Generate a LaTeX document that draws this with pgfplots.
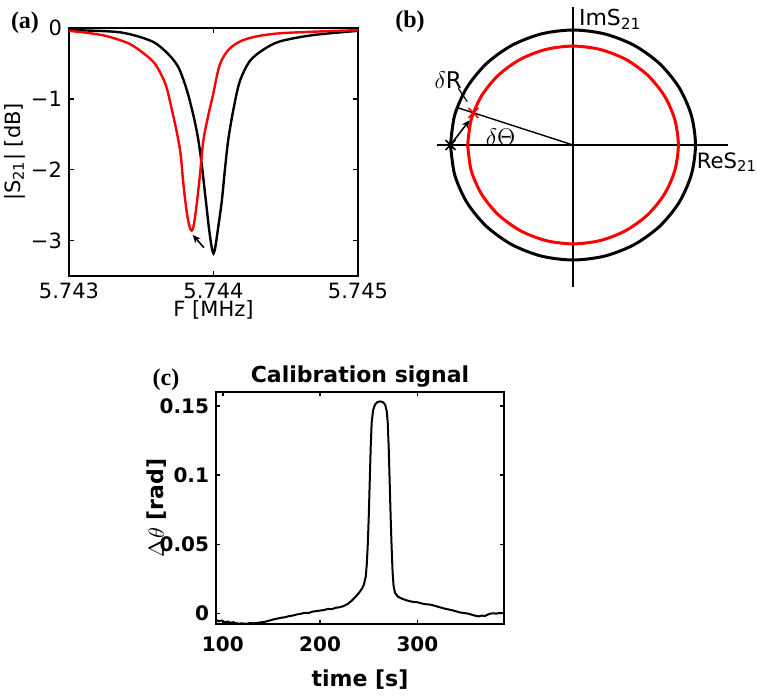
\documentclass[border=0pt]{standalone}
\usepackage{fontspec}
\setmainfont{DejaVu Sans}
\newfontfamily\panelfont{Liberation Serif}
\usepackage{pgfplots}
\pgfplotsset{compat=1.18}
\usetikzlibrary{arrows.meta}

% |S21| traces, x given as (F - 5.743 MHz) in kHz
\pgfplotstableread{
x y
0.000 -0.03
0.350 -0.06
0.576 -0.19
0.692 -0.38
0.761 -0.57
0.819 -0.90
0.865 -1.27
0.895 -1.58
0.920 -1.95
0.945 -2.40
0.970 -2.85
0.988 -3.10
1.000 -3.18
1.012 -3.10
1.030 -2.85
1.057 -2.45
1.080 -1.98
1.102 -1.58
1.135 -1.18
1.181 -0.76
1.250 -0.47
1.342 -0.31
1.458 -0.19
1.688 -0.10
2.000 -0.04
}\blackres
\pgfplotstableread{
x y
0.000 -0.04
0.230 -0.10
0.415 -0.22
0.530 -0.38
0.600 -0.52
0.669 -0.80
0.715 -1.18
0.750 -1.51
0.773 -1.79
0.791 -2.19
0.815 -2.60
0.835 -2.81
0.849 -2.86
0.862 -2.80
0.880 -2.55
0.905 -2.10
0.929 -1.60
0.962 -1.25
0.997 -0.94
1.043 -0.52
1.112 -0.29
1.227 -0.155
1.458 -0.075
2.000 -0.03
}\redres

\pgfplotstableread{
t d
93 -0.0045
96 -0.0055
99 -0.0050
102 -0.0062
105 -0.0058
108 -0.0066
111 -0.0062
114 -0.0070
117 -0.0072
120 -0.0070
124 -0.0074
128 -0.0068
132 -0.0070
136 -0.0066
140 -0.0062
144 -0.0058
148 -0.0050
152 -0.0042
156 -0.0036
160 -0.0030
164 -0.0026
168 -0.0018
172 -0.0014
176 -0.0006
180 -0.0002
184 0.0006
188 0.0004
192 0.0014
196 0.0018
200 0.0022
204 0.0026
208 0.0034
212 0.0032
216 0.0042
220 0.0046
224 0.0054
228 0.0068
232 0.0090
236 0.0118
240 0.0150
243 0.0180
245 0.0210
247 0.0270
248 0.0360
249 0.0500
250 0.0700
251 0.0950
252 0.1200
253 0.1380
254.5 0.1470
256.5 0.1510
259 0.1528
262 0.1532
265 0.1525
267 0.1505
268.5 0.1460
269.5 0.1380
270.5 0.1200
271.5 0.0950
272.5 0.0700
273.5 0.0480
274.5 0.0300
275.5 0.0200
277 0.0150
280 0.0122
284 0.0108
288 0.0098
292 0.0090
296 0.0084
300 0.0082
304 0.0074
308 0.0068
312 0.0066
316 0.0060
320 0.0052
324 0.0044
328 0.0036
332 0.0030
336 0.0024
340 0.0016
344 0.0008
348 0.0004
352 0.0000
356 -0.0008
360 -0.0016
363 -0.0020
366 -0.0014
369 -0.0018
372 -0.0008
375 0.0000
378 0.0002
381 0.0000
384 0.0004
388 0.0004
}\calib

\begin{document}
\begin{tikzpicture}
\useasboundingbox (0,0) rectangle (378.5pt,348.5pt);

% ---- (a) ----
\begin{axis}[
  at={(34.5pt,210.5pt)}, anchor=south west,
  scale only axis, width=144.5pt, height=124pt,
  xmin=0, xmax=2, ymin=-3.5, ymax=0,
  xtick={0,1,2}, xticklabels={5.743,5.744,5.745},
  ytick={-3,-2,-1,0}, yticklabels={−3,−2,−1,0},
  tick align=inside, major tick length=2.5pt,
  axis line style={line width=0.9pt},
  tick style={line width=0.7pt, black},
  ticklabel style={font=\fontsize{10.5}{12}\selectfont},
  label style={font=\fontsize{10.5}{12}\selectfont},
  xlabel={F [MHz]}, ylabel={|S\textsubscript{21}| [dB]},
  xlabel style={at={([yshift=-17pt]rel axis cs:0.5,0)}, anchor=center},
  ylabel style={at={([xshift=-27pt]rel axis cs:0,0.5)}, anchor=center},
]
\addplot[black, line width=1.2pt, smooth] table[x=x, y=y] {\blackres};
\addplot[red, line width=1.2pt, smooth] table[x=x, y=y] {\redres};
\draw[-{Stealth[length=4pt,width=3.5pt]}, line width=0.8pt] (axis cs:0.934,-3.10) -- (axis cs:0.856,-2.92);
\end{axis}

% ---- (b) ----
\begin{axis}[
  at={(213pt,204.125pt)}, anchor=south west,
  scale only axis, width=153.125pt, height=143.75pt,
  xmin=-1.2, xmax=1.3, ymin=-1.25, ymax=1.25,
  hide axis, clip=false,
]
\addplot[black, line width=0.8pt] coordinates {(-1.11,0) (1.265,0)};
\addplot[black, line width=0.8pt] coordinates {(0,1.2) (0,-1.235)};
\addplot[black, line width=0.7pt] coordinates {(0,0) (-0.9455,0.3256)};
\addplot[black, line width=1.5pt, smooth] coordinates {
(-1,0) (-0.9659,-0.2588) (-0.8660,-0.5) (-0.7071,-0.7071) (-0.5,-0.8660)
(-0.2588,-0.9659) (0,-1) (0.2588,-0.9659) (0.5,-0.8660) (0.7071,-0.7071)
(0.8660,-0.5) (0.9659,-0.2588) (1,0) (0.9659,0.2588) (0.8660,0.5)
(0.7071,0.7071) (0.5,0.8660) (0.2588,0.9659) (0,1) (-0.2588,0.9659)
(-0.5,0.8660) (-0.7071,0.7071) (-0.8660,0.5) (-0.9659,0.2588) (-1,0)};
\addplot[red, line width=1.5pt, smooth] coordinates {
(-0.86,0) (-0.8307,-0.2226) (-0.7448,-0.43) (-0.6081,-0.6081) (-0.43,-0.7448)
(-0.2226,-0.8307) (0,-0.86) (0.2226,-0.8307) (0.43,-0.7448) (0.6081,-0.6081)
(0.7448,-0.43) (0.8307,-0.2226) (0.86,0) (0.8307,0.2226) (0.7448,0.43)
(0.6081,0.6081) (0.43,0.7448) (0.2226,0.8307) (0,0.86) (-0.2226,0.8307)
(-0.43,0.7448) (-0.6081,0.6081) (-0.7448,0.43) (-0.8307,0.2226) (-0.86,0)};
\addplot[black, only marks, mark=x, mark size=3.5pt, line width=0.8pt] coordinates {(-1,0)};
\addplot[red, only marks, mark=x, mark size=3.5pt, line width=0.8pt] coordinates {(-0.813,0.280)};
\draw[-{Stealth[length=4pt,width=3.5pt]}, line width=0.8pt] (axis cs:-1,0) -- (axis cs:-0.845,0.215);
\draw[line width=0.6pt] (axis cs:-0.936,0.493) -- (axis cs:-0.863,0.377);
\node[font=\fontsize{11.5}{13}\selectfont] at (axis cs:-1.018,0.565) {$\delta$R};
\node[font=\fontsize{11.5}{13}\selectfont] at (axis cs:-0.59,0.072) {$\delta\Theta$};
\node[anchor=west, inner sep=1pt, font=\fontsize{11}{13}\selectfont] at (axis cs:0.03,1.09) {ImS\textsubscript{21}};
\node[anchor=west, inner sep=0.5pt, font=\fontsize{10.6}{13}\selectfont] at (axis cs:1.0,-0.15) {ReS\textsubscript{21}};
\end{axis}

% ---- (c) ----
\begin{axis}[
  at={(108pt,36.5pt)}, anchor=south west,
  scale only axis, width=144pt, height=116pt,
  xmin=93, xmax=389, ymin=-0.0075, ymax=0.16,
  xtick={100,200,300}, xticklabels={100,200,300},
  ytick={0,0.05,0.1,0.15}, yticklabels={0,0.05,0.1,0.15},
  tick align=inside, major tick length=2pt,
  axis line style={line width=0.9pt},
  tick style={line width=0.7pt, black},
  ticklabel style={font=\bfseries\fontsize{10}{12}\selectfont},
  xticklabel style={yshift=-3pt},
  label style={font=\bfseries\fontsize{11}{13}\selectfont},
  title={Calibration signal},
  title style={at={([yshift=1.5pt]rel axis cs:0.5,1)}, anchor=center, font=\bfseries\fontsize{11}{13}\selectfont},
  xlabel={time [s]}, ylabel={$\Delta\theta$ [rad]},
  xlabel style={at={([yshift=-28pt]rel axis cs:0.5,0)}, anchor=center},
  ylabel style={at={([xshift=-29.5pt]rel axis cs:0,0.5)}, anchor=center},
]
\addplot[black, line width=1pt] table[x=t, y=d] {\calib};
\end{axis}

\node[font=\panelfont\bfseries\fontsize{12}{14}\selectfont] at (12.5pt,337.25pt) {(a)};
\node[font=\panelfont\bfseries\fontsize{12}{14}\selectfont] at (205pt,337.5pt) {(b)};
\node[font=\panelfont\bfseries\fontsize{12}{14}\selectfont] at (83pt,158.5pt) {(c)};
\end{tikzpicture}
\end{document}
